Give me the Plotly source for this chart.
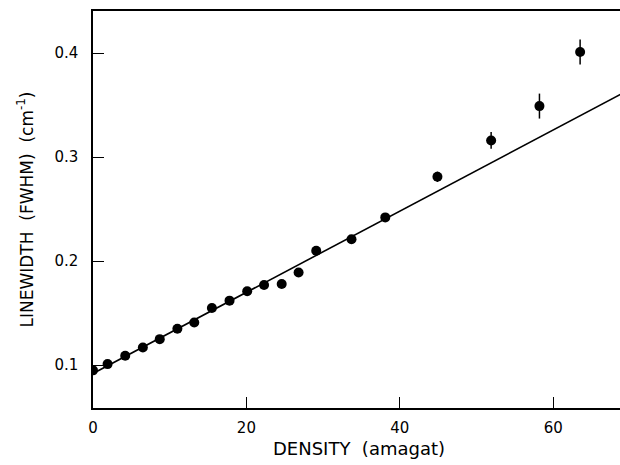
import plotly.graph_objects as go

density = [0.0, 1.9, 4.2, 6.5, 8.7, 11.0, 13.2, 15.5, 17.8, 20.1, 22.3, 24.6, 26.8, 29.1,
           33.7, 38.1, 44.9, 51.9, 58.2, 63.5]
linewidth = [0.095, 0.101, 0.109, 0.117, 0.125, 0.135, 0.141, 0.155, 0.162, 0.171, 0.177,
             0.178, 0.189, 0.210, 0.221, 0.242, 0.281, 0.316, 0.349, 0.401]
err = [0, 0, 0, 0, 0, 0, 0, 0, 0, 0, 0, 0, 0, 0, 0.002, 0.003, 0.005, 0.008, 0.012, 0.012]

fit_intercept = 0.092
fit_slope = 0.0039
fit_x = [0.0, 70.0]
fit_y = [fit_intercept + fit_slope * v for v in fit_x]

x_ticks = [0, 20, 40, 60]
y_ticks = [0.1, 0.2, 0.3, 0.4]

FONT = "DejaVu Sans"

fig = go.Figure()
fig.add_trace(go.Scatter(x=fit_x, y=fit_y, mode="lines",
                         line=dict(color="black", width=1.6), showlegend=False))
fig.add_trace(go.Scatter(x=density, y=linewidth, mode="markers",
                         marker=dict(color="black", size=10),
                         error_y=dict(type="data", array=err, visible=True, color="black",
                                      thickness=1.5, width=0),
                         showlegend=False))

fig.update_layout(
    width=620, height=465,
    margin=dict(l=93, r=0, t=11, b=57),
    paper_bgcolor="white", plot_bgcolor="white",
    font=dict(family=FONT, color="black", size=15),
    xaxis=dict(range=[0, 68.7], tickvals=x_ticks, ticktext=[str(v) for v in x_ticks],
               ticks="inside", ticklen=11, tickwidth=1.3, tickcolor="black",
               showline=True, linecolor="black", linewidth=1.5, mirror=True,
               showgrid=False, zeroline=False, ticklabelstandoff=5,
               tickfont=dict(size=15, family=FONT)),
    yaxis=dict(range=[0.0588, 0.4404], tickvals=y_ticks, ticktext=[f"{v:.1f}" for v in y_ticks],
               ticks="inside", ticklen=11, tickwidth=1.3, tickcolor="black",
               showline=True, linecolor="black", linewidth=1.5,
               showgrid=False, zeroline=False, ticklabelstandoff=10,
               tickfont=dict(size=15, family=FONT)),
    annotations=[
        dict(text="DENSITY  (amagat)", xref="paper", yref="paper", x=0.505, y=0,
             yshift=-40, xanchor="center", yanchor="middle", showarrow=False,
             font=dict(size=18, family=FONT)),
        dict(text="LINEWIDTH  (FWHM)  (cm<sup>-1</sup>)", xref="paper", yref="paper",
             x=0, xshift=-68, y=0.5, textangle=-90, xanchor="center", yanchor="middle",
             showarrow=False, font=dict(size=17, family=FONT)),
    ],
)

fig.write_html("out.html")
